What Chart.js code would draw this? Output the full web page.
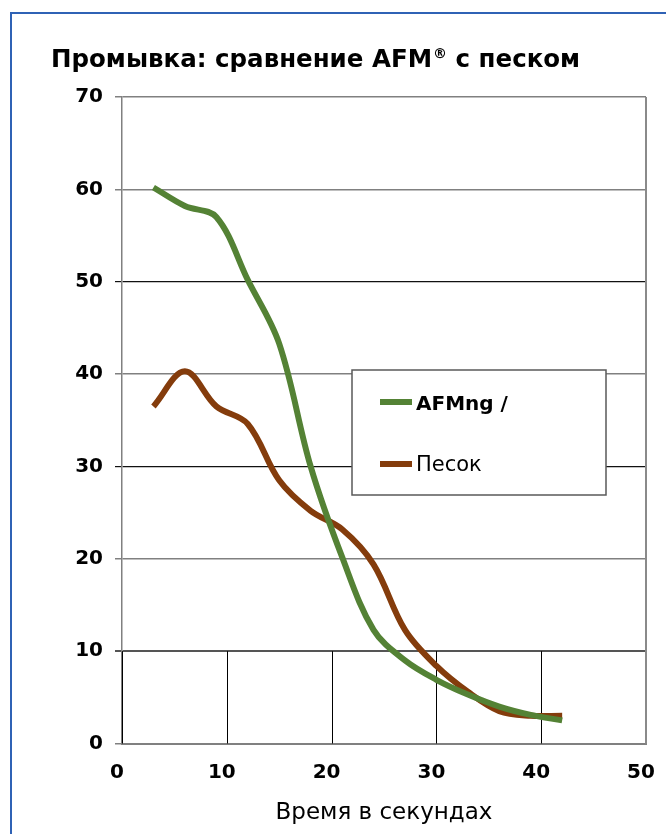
<!DOCTYPE html>
<html><head><meta charset="utf-8">
<script src="https://cdn.jsdelivr.net/npm/chart.js@4.4.1/dist/chart.umd.min.js"></script>
<style>html,body{margin:0;padding:0;background:#fff;overflow:hidden}canvas{display:block}</style>
</head><body>
<canvas id="c" width="666" height="834"></canvas>
<script>
// ---- data ----
const titleParts = ['Промывка: сравнение AFM', '®', ' с песком'];
const xAxisTitle = 'Время в секундах';
const seriesNames = ['AFMng /', 'Песок'];
const times = [3, 6, 9, 12, 15, 18, 21, 24, 27, 30, 33, 36, 39, 42];
const afmValues = [60.2, 58.2, 57.0, 50.2, 43.3, 30.0, 20.2, 12.3, 9.0, 6.9, 5.3, 4.0, 3.1, 2.5];
const sandValues = [36.5, 40.3, 36.5, 34.6, 28.5, 25.2, 23.2, 19.4, 12.3, 8.4, 5.6, 3.5, 3.0, 3.0];
const xTickValues = [0, 10, 20, 30, 40, 50];
const yTickValues = [0, 10, 20, 30, 40, 50, 60, 70];
const bandLineValues = [0, 10, 20, 30, 40];
const seriesColors = ['#548235', '#843C0C'];

const FONT = '"DejaVu Sans", sans-serif';

function toPoints(xs, ys) { return xs.map((x, i) => ({x: x, y: ys[i]})); }

const decor = {
  id: 'decor',
  beforeDraw(chart) {
    const ctx = chart.ctx;
    ctx.save();
    ctx.fillStyle = '#fff';
    ctx.fillRect(0, 0, chart.width, chart.height);
    // outer blue frame (left + top)
    ctx.strokeStyle = '#2f62b5';
    ctx.lineWidth = 2;
    ctx.beginPath();
    ctx.moveTo(11, chart.height);
    ctx.lineTo(11, 13);
    ctx.lineTo(chart.width, 13);
    ctx.stroke();
    // title
    ctx.fillStyle = '#000';
    ctx.textBaseline = 'alphabetic';
    ctx.textAlign = 'left';
    let x = 51, y = 67;
    ctx.font = 'bold 24.5px ' + FONT;
    ctx.fillText(titleParts[0], x, y);
    x += ctx.measureText(titleParts[0]).width + 1;
    ctx.font = 'bold 14px ' + FONT;
    ctx.fillText(titleParts[1], x, y - 9);
    x += ctx.measureText(titleParts[1]).width;
    ctx.font = 'bold 24.5px ' + FONT;
    ctx.fillText(titleParts[2], x, y);
    ctx.restore();
  },
  beforeDatasetsDraw(chart) {
    const ctx = chart.ctx, xs = chart.scales.x, ys = chart.scales.y, ca = chart.chartArea;
    ctx.save();
    // vertical lines in the lowest band
    ctx.strokeStyle = '#000';
    ctx.lineWidth = 1;
    const y0 = ys.getPixelForValue(0), y1 = ys.getPixelForValue(10);
    bandLineValues.forEach(v => {
      const px = Math.round(xs.getPixelForValue(v)) + 0.5;
      ctx.beginPath(); ctx.moveTo(px, y0); ctx.lineTo(px, y1); ctx.stroke();
    });
    // right border of plot
    ctx.strokeStyle = '#8a8a8a';
    ctx.lineWidth = 2;
    ctx.beginPath(); ctx.moveTo(ca.right, ca.top); ctx.lineTo(ca.right, ca.bottom); ctx.stroke();
    ctx.restore();
  },
  afterDatasetsDraw(chart) {
    const ctx = chart.ctx;
    ctx.save();
    // legend box
    const bx = 352, by = 370, bw = 254, bh = 125;
    ctx.fillStyle = '#fff';
    ctx.fillRect(bx, by, bw, bh);
    ctx.strokeStyle = '#595959';
    ctx.lineWidth = 1.5;
    ctx.strokeRect(bx, by, bw, bh);
    const rows = [
      {y: 402, base: 410, font: 'bold 20px ' + FONT},
      {y: 464, base: 471, font: '21px ' + FONT}
    ];
    rows.forEach((r, i) => {
      ctx.strokeStyle = chart.data.datasets[i].borderColor;
      ctx.lineWidth = 6;
      ctx.beginPath(); ctx.moveTo(380, r.y); ctx.lineTo(412, r.y); ctx.stroke();
      ctx.fillStyle = '#000';
      ctx.font = r.font;
      ctx.textBaseline = 'alphabetic';
      ctx.fillText(chart.data.datasets[i].label, 416, r.base);
    });
    ctx.restore();
  }
};

function gridColor(v) {
  if (v === 10) return '#555555';
  if (v === 30 || v === 50) return '#111111';
  return '#808080';
}
function gridWidth(v) {
  if (v === 10) return 2;
  if (v === 30 || v === 50) return 1.2;
  return 1.5;
}

new Chart(document.getElementById('c'), {
  type: 'line',
  data: {
    datasets: [
      {label: seriesNames[0], data: toPoints(times, afmValues), borderColor: seriesColors[0], backgroundColor: seriesColors[0], borderWidth: 6, pointRadius: 0, tension: 0.35, fill: false},
      {label: seriesNames[1], data: toPoints(times, sandValues), borderColor: seriesColors[1], backgroundColor: seriesColors[1], borderWidth: 6, pointRadius: 0, tension: 0.35, fill: false}
    ]
  },
  options: {
    responsive: false,
    animation: false,
    devicePixelRatio: 1,
    layout: {padding: {top: 97, right: 20, bottom: 0, left: 0}},
    plugins: {legend: {display: false}, title: {display: false}, tooltip: {enabled: false}},
    scales: {
      x: {
        type: 'linear', min: 0, max: 50,
        afterBuildTicks(axis) { axis.ticks = xTickValues.map(v => ({value: v})); },
        afterFit(axis) { axis.height = 90.5; axis.paddingLeft = 0; axis.paddingRight = 0; },
        grid: {display: false},
        border: {display: true, color: '#808080', width: 2},
        ticks: {padding: 9, labelOffset: -5, color: '#000', font: {family: FONT, size: 20, weight: 'bold'}, maxRotation: 0},
        title: {display: true, text: xAxisTitle, color: '#000', font: {family: FONT, size: 23}, padding: {top: 0, bottom: 7}}
      },
      y: {
        type: 'linear', min: 0, max: 70,
        afterBuildTicks(axis) { axis.ticks = yTickValues.map(v => ({value: v})); },
        afterFit(axis) { axis.width = 122; axis.paddingTop = 0; axis.paddingBottom = 0; },
        grid: {
          color: ctx => gridColor(ctx.tick ? ctx.tick.value : 0),
          lineWidth: ctx => gridWidth(ctx.tick ? ctx.tick.value : 0),
          tickLength: 7, drawTicks: true
        },
        border: {display: true, color: '#808080', width: 1.5},
        ticks: {padding: 12, color: '#000', font: {family: FONT, size: 20, weight: 'bold'}}
      }
    }
  },
  plugins: [decor]
});
</script>
</body></html>
